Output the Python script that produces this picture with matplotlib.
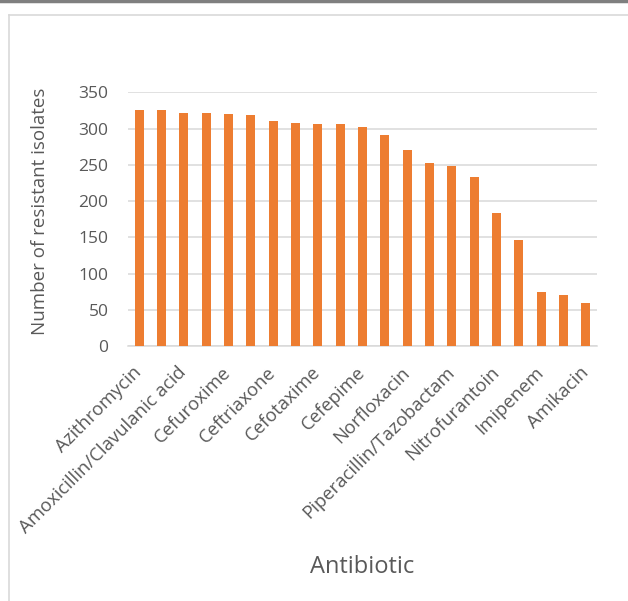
import numpy as np
import matplotlib
matplotlib.use('Agg')
import matplotlib.pyplot as plt
from matplotlib.lines import Line2D

# Resistant isolates per antibiotic (sorted, highest first)
values = [326, 326, 322, 321, 320, 318, 310, 308, 306, 306, 302,
          291, 271, 253, 249, 233, 184, 146, 75, 71, 59]
# only every second category gets a visible label on the axis
shown_labels = ['Azithromycin', 'Amoxicillin/Clavulanic acid', 'Cefuroxime',
                'Ceftriaxone', 'Cefotaxime', 'Cefepime', 'Norfloxacin',
                'Piperacillin/Tazobactam', 'Nitrofurantoin', 'Imipenem', 'Amikacin']
y_ticks = [0, 50, 100, 150, 200, 250, 300, 350]

plt.rcParams['font.family'] = ['Open Sans', 'DejaVu Sans']
text_col = '#595959'
grid_col = '#d9d9d9'

fig = plt.figure(figsize=(6.28, 6.01), dpi=100)
ax = fig.add_axes([128/628, 1 - 346/601, (597 - 128)/628, (346 - 92.3)/601])

x = np.arange(len(values))
ax.bar(x, values, width=0.39, color='#ED7D31', zorder=3)

ax.set_xlim(-0.5, len(values) - 0.5)
ax.set_ylim(0, 350)
ax.set_yticks(y_ticks)
ax.set_yticklabels([str(v) for v in y_ticks], fontsize=12.5, color=text_col)
ax.yaxis.grid(True, color=grid_col, linewidth=1.1, zorder=0)
ax.set_axisbelow(True)

ax.set_xticks(x[::2])
ax.set_xticklabels(shown_labels, rotation=45, ha='right', va='center',
                   rotation_mode='anchor', fontsize=13.3, color=text_col)
ax.tick_params(axis='both', length=0)
ax.tick_params(axis='y', pad=14)
ax.tick_params(axis='x', pad=17)

for s in ['top', 'right', 'left']:
    ax.spines[s].set_visible(False)
ax.spines['bottom'].set_color(grid_col)
ax.spines['bottom'].set_linewidth(1.1)

fig.text(40/628, 1 - 211/601, 'Number of resistant isolates', rotation=90,
         ha='center', va='center', fontsize=13.5, color=text_col)
fig.text(362/628, 1 - 567/601, 'Antibiotic', ha='center', va='center',
         fontsize=17, color=text_col)

# chart frame and the dark rule along the top edge
fig.add_artist(Line2D([9/628, 1], [1 - 15/601, 1 - 15/601], color=grid_col,
                      linewidth=1.2, transform=fig.transFigure))
fig.add_artist(Line2D([9/628, 9/628], [0, 1 - 15/601], color=grid_col,
                      linewidth=1.2, transform=fig.transFigure))
fig.add_artist(Line2D([0, 1], [1 - 1/601, 1 - 1/601], color='#7f7f7f',
                      linewidth=2.5, transform=fig.transFigure))

fig.savefig('out.png', dpi=100)
